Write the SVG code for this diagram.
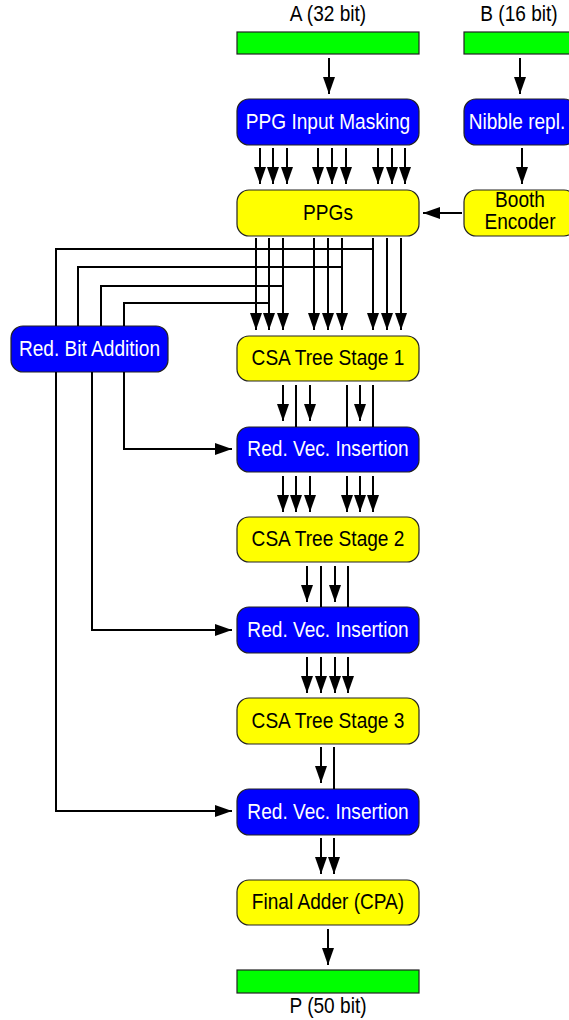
<svg xmlns="http://www.w3.org/2000/svg" width="569" height="1020" viewBox="0 0 569 1020">
<defs>
<marker id="ah" markerUnits="userSpaceOnUse" markerWidth="18" markerHeight="13" refX="17" refY="6" orient="auto">
<path d="M0,0 L17,6 L0,12 z" fill="#000"/>
</marker>
<style>
.blue{fill:#0000FF;stroke:#222;stroke-width:1.2}
.yel{fill:#FFFF00;stroke:#222;stroke-width:1.2}
.grn{fill:#00FF00;stroke:#222;stroke-width:1.2}
.tw{fill:#fff;font-family:"Liberation Sans",Arial,sans-serif;font-size:19.1px;text-anchor:middle}
.tb{fill:#000;font-family:"Liberation Sans",Arial,sans-serif;font-size:19.1px;text-anchor:middle}
.ln{stroke:#000;stroke-width:2;fill:none}
.ar{stroke:#000;stroke-width:2;fill:none;marker-end:url(#ah)}
</style>
</defs>
<rect width="569" height="1020" fill="#fff"/>

<g id="inA">
<text class="tb" transform="translate(328,21) scale(1,1.12)">A (32 bit)</text>
<rect class="grn" x="237" y="32" width="182" height="22"/>
</g>
<g id="inB">
<text class="tb" transform="translate(519,21) scale(1,1.12)">B (16 bit)</text>
<rect class="grn" x="464" y="32" width="112" height="22"/>
</g>
<g id="ppgmask">
<rect class="blue" x="237" y="99" width="182" height="46" rx="12"/>
<text class="tw" transform="translate(328,129) scale(1,1.12)">PPG Input Masking</text>
</g>
<g id="nibble">
<rect class="blue" x="464" y="99" width="112" height="46" rx="12"/>
<text class="tw" transform="translate(517,129) scale(1,1.12)">Nibble repl.</text>
</g>
<g id="ppgs">
<rect class="yel" x="237" y="190" width="182" height="46" rx="12"/>
<text class="tb" transform="translate(328,220) scale(1,1.12)">PPGs</text>
</g>
<g id="booth">
<rect class="yel" x="464" y="190" width="112" height="46" rx="12"/>
<text class="tb" transform="translate(520,207) scale(1,1.12)">Booth</text>
<text class="tb" transform="translate(520,229) scale(1,1.12)">Encoder</text>
</g>
<g id="redbit">
<rect class="blue" x="11" y="326" width="157" height="46" rx="12"/>
<text class="tw" transform="translate(89.5,356) scale(1,1.12)">Red. Bit Addition</text>
</g>
<g id="csa1">
<rect class="yel" x="237" y="336" width="182" height="45" rx="12"/>
<text class="tb" transform="translate(328,365.3) scale(1,1.12)">CSA Tree Stage 1</text>
</g>
<g id="rvi1">
<rect class="blue" x="237" y="427" width="182" height="45" rx="12"/>
<text class="tw" transform="translate(328,456.3) scale(1,1.12)">Red. Vec. Insertion</text>
</g>
<g id="csa2">
<rect class="yel" x="237" y="517" width="182" height="45" rx="12"/>
<text class="tb" transform="translate(328,546.3) scale(1,1.12)">CSA Tree Stage 2</text>
</g>
<g id="rvi2">
<rect class="blue" x="237" y="607" width="182" height="46" rx="12"/>
<text class="tw" transform="translate(328,637) scale(1,1.12)">Red. Vec. Insertion</text>
</g>
<g id="csa3">
<rect class="yel" x="237" y="698" width="182" height="46" rx="12"/>
<text class="tb" transform="translate(328,728) scale(1,1.12)">CSA Tree Stage 3</text>
</g>
<g id="rvi3">
<rect class="blue" x="237" y="789" width="182" height="46" rx="12"/>
<text class="tw" transform="translate(328,819) scale(1,1.12)">Red. Vec. Insertion</text>
</g>
<g id="cpa">
<rect class="yel" x="237" y="880" width="182" height="45" rx="12"/>
<text class="tb" transform="translate(328,909.3) scale(1,1.12)">Final Adder (CPA)</text>
</g>
<g id="outP">
<rect class="grn" x="237" y="970" width="182" height="23"/>
<text class="tb" transform="translate(328,1013) scale(1,1.12)">P (50 bit)</text>
</g>

<g id="connectors">
<line class="ar" x1="329" y1="58" x2="329" y2="94"/>
<line class="ar" x1="520" y1="58" x2="520" y2="94"/>
<line class="ar" x1="522" y1="148" x2="522" y2="184"/>
<line class="ar" x1="462" y1="213" x2="423" y2="213"/>
<line class="ar" x1="260" y1="148" x2="260" y2="184"/>
<line class="ar" x1="273" y1="148" x2="273" y2="184"/>
<line class="ar" x1="287" y1="148" x2="287" y2="184"/>
<line class="ar" x1="318" y1="148" x2="318" y2="184"/>
<line class="ar" x1="332" y1="148" x2="332" y2="184"/>
<line class="ar" x1="346" y1="148" x2="346" y2="184"/>
<line class="ar" x1="378" y1="148" x2="378" y2="184"/>
<line class="ar" x1="392" y1="148" x2="392" y2="184"/>
<line class="ar" x1="405" y1="148" x2="405" y2="184"/>
<line class="ar" x1="256" y1="238" x2="256" y2="330"/>
<line class="ar" x1="269" y1="238" x2="269" y2="330"/>
<line class="ar" x1="283" y1="238" x2="283" y2="330"/>
<line class="ar" x1="314" y1="238" x2="314" y2="330"/>
<line class="ar" x1="328" y1="238" x2="328" y2="330"/>
<line class="ar" x1="342" y1="238" x2="342" y2="330"/>
<line class="ar" x1="373" y1="238" x2="373" y2="330"/>
<line class="ar" x1="387" y1="238" x2="387" y2="330"/>
<line class="ar" x1="401" y1="238" x2="401" y2="330"/>
<polyline class="ln" points="56,326 56,249 373,249"/>
<polyline class="ln" points="78,326 78,267 342,267"/>
<polyline class="ln" points="101,326 101,286 283,286"/>
<polyline class="ln" points="124,326 124,303 269,303"/>
<polyline class="ar" points="124,372 124,449 232,449"/>
<polyline class="ar" points="92,372 92,630 232,630"/>
<polyline class="ar" points="56,372 56,811 232,811"/>
<line class="ar" x1="283" y1="385" x2="283" y2="421"/>
<line class="ln" x1="296" y1="385" x2="296" y2="427"/>
<line class="ar" x1="310" y1="385" x2="310" y2="421"/>
<line class="ln" x1="347" y1="385" x2="347" y2="427"/>
<line class="ar" x1="360" y1="385" x2="360" y2="421"/>
<line class="ln" x1="373" y1="385" x2="373" y2="427"/>
<line class="ar" x1="283" y1="476" x2="283" y2="512"/>
<line class="ar" x1="296" y1="476" x2="296" y2="512"/>
<line class="ar" x1="310" y1="476" x2="310" y2="512"/>
<line class="ar" x1="347" y1="476" x2="347" y2="512"/>
<line class="ar" x1="360" y1="476" x2="360" y2="512"/>
<line class="ar" x1="373" y1="476" x2="373" y2="512"/>
<line class="ar" x1="307" y1="566" x2="307" y2="602"/>
<line class="ln" x1="321" y1="566" x2="321" y2="607"/>
<line class="ar" x1="335" y1="566" x2="335" y2="602"/>
<line class="ln" x1="348" y1="566" x2="348" y2="607"/>
<line class="ar" x1="307" y1="657" x2="307" y2="693"/>
<line class="ar" x1="321" y1="657" x2="321" y2="693"/>
<line class="ar" x1="335" y1="657" x2="335" y2="693"/>
<line class="ar" x1="348" y1="657" x2="348" y2="693"/>
<line class="ar" x1="321" y1="747" x2="321" y2="783"/>
<line class="ln" x1="334" y1="747" x2="334" y2="789"/>
<line class="ar" x1="321" y1="838" x2="321" y2="874"/>
<line class="ar" x1="334" y1="838" x2="334" y2="874"/>
<line class="ar" x1="328" y1="929" x2="328" y2="965"/>
</g>
</svg>
